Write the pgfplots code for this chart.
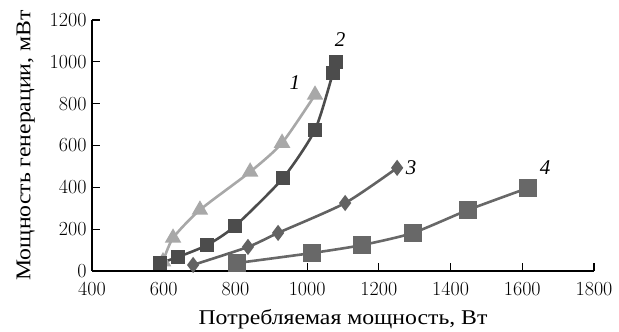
\documentclass[border=0pt]{standalone}
\usepackage{fontspec}
\setmainfont{Latin Modern Roman}
\newfontfamily\cyr[FakeStretch=1.13]{Liberation Serif}
\newfontfamily\cyrit[FakeStretch=1.0]{Liberation Serif}
\usepackage{pgfplots}
\pgfplotsset{compat=1.18}
\definecolor{cA}{RGB}{168,168,168}
\definecolor{cB}{RGB}{76,76,76}
\definecolor{cC}{RGB}{98,98,98}
\definecolor{cD}{RGB}{104,104,104}
\newcommand\bigsz{\fontsize{20}{23}\selectfont}
\newcommand\lblsz{\fontsize{21}{24}\selectfont}
\begin{document}
\begin{tikzpicture}
\begin{axis}[
  scale only axis, width=502pt, height=251pt,
  xmin=400, xmax=1800, ymin=0, ymax=1200,
  xtick={400,600,...,1800}, ytick={0,200,...,1200},
  axis x line*=bottom, axis y line*=left,
  axis line style={line width=1.3pt, -},
  tick style={line width=1.2pt, black},
  tick align=inside, major tick length=8pt,
  xticklabel={\bigsz\pgfmathprintnumber[assume math mode=true,1000 sep={}]{\tick}},
  yticklabel={\bigsz\pgfmathprintnumber[assume math mode=true,1000 sep={}]{\tick}},
  xticklabel style={yshift=-8pt},
  yticklabel style={xshift=-2pt},
  label style={font=\cyr\lblsz},
  xlabel={Потребляемая мощность, Вт},
  ylabel={Мощность генерации, мВт},
  xlabel style={yshift=-6pt},
  ylabel style={yshift=8pt},
  clip=false,
  every axis plot/.append style={line width=2.6pt, smooth, tension=0.4},
]
\addplot[cA, mark=triangle*, mark size=7pt, mark options={solid}] coordinates {
 (598,45) (626,158) (701,292) (841,474) (930,612) (1022,842)};
\addplot[cB, mark=square*, mark size=6pt] coordinates {
 (590,38) (640,67) (721,124) (799,215) (933,445) (1022,675) (1072,947) (1081,1000)};
\addplot[cC, mark=diamond*, mark size=6pt] coordinates {
 (682,29) (835,115) (919,182) (1106,325) (1251,493)};
\addplot[cD, mark=square*, mark size=7.5pt] coordinates {
 (804,38) (1014,86) (1153,124) (1295,182) (1449,292) (1616,397)};
\node[font=\cyrit\lblsz\itshape] at (axis cs:966,899) {1};
\node[font=\cyrit\lblsz\itshape] at (axis cs:1092,1105) {2};
\node[font=\cyrit\lblsz\itshape] at (axis cs:1290,493) {3};
\node[font=\cyrit\lblsz\itshape] at (axis cs:1664,493) {4};
\path (rel axis cs:0,0) ++(-92pt,-60pt) coordinate (bbA);
\path (rel axis cs:1,1) ++(25pt,20pt) coordinate (bbB);
\end{axis}
\useasboundingbox (bbA) rectangle (bbB);
\end{tikzpicture}
\end{document}
